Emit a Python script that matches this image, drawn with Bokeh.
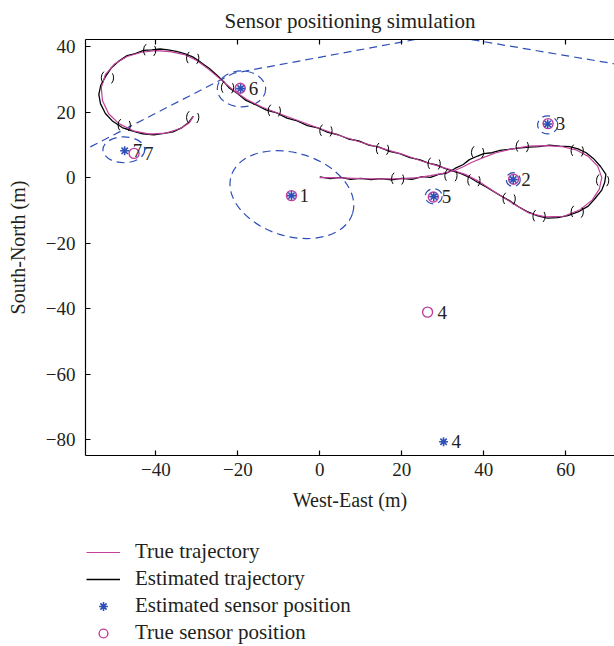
from bokeh.plotting import figure
from bokeh.layouts import column
from bokeh.models import Range1d, LinearAxis, FixedTicker, Legend, LegendItem
from bokeh.core.properties import value
from bokeh.embed import file_html
from bokeh.resources import INLINE

FONT = "Liberation Serif"
TXT = "#231f20"
MAGENTA = "#c0409c"
BLUE = "#2e4fb8"

# ---------------- data ----------------
true_x = [0, 5, 10, 15, 20, 24, 27, 30, 32.8, 35, 37, 40, 43, 47, 51, 55, 59, 62.5, 65.5,
          67.8, 68.8, 68.2, 66.5, 63.5, 59.5, 55, 51, 47, 43, 39, 35.5, 32.8, 29, 25, 20,
          15, 10, 5, 0, -5, -10, -14, -18, -21, -24, -27, -30, -33, -36.5, -40, -43.5, -47,
          -50, -52.3, -53.3, -53, -51.5, -49, -45.5, -41.5, -37.5, -34, -31.8, -30.8]
true_y = [0, -0.1, -0.3, -0.4, -0.3, 0, 0.6, 1.3, 2.1, 3.3, 4.6, 6.2, 7.6, 8.8, 9.6, 9.8, 9.5,
          8.5, 6.5, 3.5, 0, -3.5, -6.8, -9.8, -11.8, -12, -10.8, -7.8, -4.6, -1.3, 1, 2.1, 3.5,
          5, 7.2, 9, 10.8, 12.8, 15, 17.3, 19.6, 21.5, 24, 26.6, 29.8, 33, 35.8, 37.6, 38.5,
          38.8, 38.3, 37, 34.8, 31.5, 27.5, 23.5, 19.5, 16.5, 14.3, 13.3, 13.6, 15, 16.8, 18.8]

est_traj_x = [0, 2.5, 5, 7.5, 10, 12.5, 15, 17.5, 20, 22.5, 25, 27, 29, 31, 33, 35, 36.5, 38.5,
              40, 42, 44, 46, 48.5, 51, 53.5, 56, 58.5, 61, 63, 65, 66.8, 68.5, 69.8, 69.5,
              68.8, 67.2, 65.5, 63, 60.5, 58, 55.5, 53, 50.5, 48.5, 46.5, 44.5, 42.5, 40.5,
              38.5, 36.5, 34.5, 32.5, 30.5, 28.5, 26.5, 24.5, 22, 19.5, 17, 14.5, 12, 9.5, 7,
              4.5, 2, -0.5, -3, -5.5, -8, -10.5, -13, -15.5, -18, -20, -22, -23.5, -25, -27,
              -29, -31, -33, -35, -37, -39, -41, -43, -45, -47, -49, -50.8, -52.2, -53.4,
              -53.9, -53.5, -52.3, -50.5, -48.2, -45.8, -43.2, -40.5, -38, -35.8, -33.6, -32,
              -30.9]
est_traj_y = [0.2, -0.3, 0.1, -0.5, -0.2, -0.6, -0.3, -0.7, -0.2, -0.5, 0.3, 0.1, 1.0, 1.4,
              2.8, 4.0, 5.5, 6.6, 7.3, 7.6, 8.3, 8.6, 9.0, 9.3, 9.5, 9.9, 9.6, 9.5, 8.8, 7.6,
              5.8, 3.4, 1.0, -1.5, -3.8, -6.3, -8.7, -10.5, -11.6, -12.2, -12.4, -11.6, -10.3,
              -8.9, -7.2, -5.8, -4.3, -2.8, -1.4, 0.1, 1.2, 2.0, 2.8, 3.9, 4.4, 5.4, 6.1, 7.3,
              8.0, 9.3, 9.9, 11.2, 11.8, 13.1, 13.8, 15.2, 15.9, 17.3, 18.2, 19.8, 20.6, 22.2,
              23.6, 25.6, 27.3, 29.4, 31.2, 33.4, 35.2, 36.9, 37.9, 38.6, 39.0, 39.3, 39.0,
              38.9, 37.9, 37.3, 35.6, 33.6, 31.0, 28.3, 25.4, 22.6, 19.6, 17.2, 15.3, 14.3,
              13.4, 13.1, 13.5, 14.0, 15.3, 16.8, 18.7]

# small covariance ellipses along the estimated trajectory
traj_ell_x = [-41.5, -31, -51.8, -47.7, -31, -22.5, -11.1, 1.5, 15.3, 27.9, 19, 32, 37.6,
              38.5, 49.4, 62.8, 69, 62.8, 53.5, 46.2]
traj_ell_y = [38.9, 36.5, 30.5, 16.0, 18.4, 27.5, 20.4, 14.3, 8.7, 4.2, -0.4, 0.6, -0.9,
              7.7, 9.5, 8.2, -0.9, -10.5, -11.8, -6.5]

sensor_ids = ["1", "2", "3", "4", "5", "6", "7"]
est_sx = [-6.9, 47.2, 55.6, 30.2, 27.8, -19.3, -47.6]
est_sy = [-5.5, -0.6, 16.4, -80.7, -5.8, 27.2, 8.2]
true_sx = [-6.9, 47.3, 55.7, 26.3, 27.7, -19.4, -45.3]
true_sy = [-5.5, -0.5, 16.5, -41.1, -5.9, 27.3, 7.4]

# sensor covariance ellipses (sensors 1, 2, 3, 5, 6, 7)
ell_x = [-6.8, 47.2, 55.6, 27.8, -19.1, -47.8]
ell_y = [-5.2, -0.6, 16.1, -5.7, 27.1, 8.5]
ell_w = [31.0, 3.4, 4.9, 4.1, 11.8, 10.2]
ell_h = [25.4, 4.2, 5.5, 4.6, 11.0, 7.9]
ell_angle = [-0.30, 0, 0, 0, 0, 0]

# sensor 4 covariance ellipse (only its top part is in view)
s4_ell_x = [-72.9, -21.0, 29.8, 92.9]
s4_ell_y = [-1.5, 31.9, 43.7, 30.3]

x_ticks = [-40, -20, 0, 20, 40, 60]
x_tick_labels = ["\u221240", "\u221220", "0", "20", "40", "60"]
y_ticks = [-80, -60, -40, -20, 0, 20, 40]
y_tick_labels = ["\u221280", "\u221260", "\u221240", "\u221220", "0", "20", "40"]

legend_labels = ["True trajectory", "Estimated trajectory",
                 "Estimated sensor position", "True sensor position"]

# ---------------- main figure ----------------
p = figure(width=614, height=520, output_backend="svg", toolbar_location=None,
           x_range=Range1d(-57.15, 71.9), y_range=Range1d(-84.9, 42.2),
           min_border_left=85, min_border_right=0, min_border_top=37,
           min_border_bottom=65, background_fill_color="white",
           border_fill_color="white")
p.outline_line_color = None
p.grid.visible = False

p.title.text = "Sensor positioning simulation"
p.title.text_font = FONT
p.title.text_font_size = "21px"
p.title.text_font_style = "normal"
p.title.text_color = TXT
p.title.align = "center"
p.title.standoff = 13


def style_axis(ax, ticks, labels, show_labels=True):
    ax.ticker = FixedTicker(ticks=ticks)
    ax.major_label_overrides = {t: (l if show_labels else "") for t, l in zip(ticks, labels)}
    ax.minor_tick_line_color = None
    ax.major_tick_in = 5
    ax.major_tick_out = 0
    ax.axis_line_color = "black"
    ax.axis_line_width = 1.2
    ax.major_tick_line_color = "black"
    ax.major_tick_line_width = 1.2
    ax.major_label_text_font = FONT
    ax.major_label_text_font_size = "19px" if show_labels else "0px"
    ax.major_label_text_color = TXT
    ax.axis_label_text_font = FONT
    ax.axis_label_text_font_size = "20px"
    ax.axis_label_text_font_style = "normal"
    ax.axis_label_text_color = TXT


style_axis(p.xaxis[0], x_ticks, x_tick_labels)
p.xaxis[0].axis_label = "West-East (m)"
p.xaxis[0].major_label_standoff = 7
p.xaxis[0].axis_label_standoff = 10
style_axis(p.yaxis[0], y_ticks, y_tick_labels)
p.yaxis[0].axis_label = "South-North (m)"
p.yaxis[0].major_label_standoff = 10
p.yaxis[0].axis_label_standoff = 14

top_axis = LinearAxis()
style_axis(top_axis, x_ticks, x_tick_labels, show_labels=False)
top_axis.major_label_standoff = 0
p.add_layout(top_axis, "above")

# sensor covariance ellipses
p.ellipse(x=ell_x, y=ell_y, width=ell_w, height=ell_h, angle=ell_angle,
          fill_color=None, line_color=BLUE, line_width=1.2, line_dash="8 5")
p.line(s4_ell_x, s4_ell_y, line_color=BLUE, line_width=1.2, line_dash="8 5")

# trajectories
p.line(est_traj_x, est_traj_y, line_color="black", line_width=1.3)
p.line(true_x, true_y, line_color=MAGENTA, line_width=1.2)

# trajectory covariance ellipses
p.ellipse(x=traj_ell_x, y=traj_ell_y, width=3.0, height=4.6, fill_color=None,
          line_color="black", line_width=1.0, line_dash="6 10 12 10")

# sensors
p.scatter(true_sx, true_sy, marker="circle", size=10, fill_color=None,
          line_color=MAGENTA, line_width=1.4)
p.scatter(est_sx, est_sy, marker="asterisk", size=9, line_color=BLUE, line_width=1.6)

p.text(x=est_sx, y=est_sy, text=sensor_ids, x_offset=8, text_baseline="middle",
       text_font=value(FONT), text_font_size="19px", text_color=TXT)
sep = [i for i in range(7) if (abs(true_sx[i] - est_sx[i]) > 1 or abs(true_sy[i] - est_sy[i]) > 1)]
p.text(x=[true_sx[i] for i in sep], y=[true_sy[i] for i in sep],
       text=[sensor_ids[i] for i in sep], x_offset=10, text_baseline="middle",
       text_font=value(FONT), text_font_size="19px", text_color=TXT)

# ---------------- legend strip ----------------
lg = figure(width=614, height=126, output_backend="svg", toolbar_location=None,
            x_range=Range1d(0, 1), y_range=Range1d(0, 1),
            min_border_left=85, min_border_right=0, min_border_top=0,
            min_border_bottom=0, background_fill_color="white",
            border_fill_color="white")
lg.outline_line_color = None
lg.grid.visible = False
lg.axis.visible = False

# legend keys only: their one point lies outside the strip's visible range
key_x = [5]
key_y = [5]
k_true = lg.line(key_x, key_y, line_color=MAGENTA, line_width=1.2)
k_est = lg.line(key_x, key_y, line_color="black", line_width=1.3)
k_esens = lg.scatter(key_x, key_y, marker="asterisk", size=9, line_color=BLUE,
                     line_width=1.6)
k_tsens = lg.scatter(key_x, key_y, marker="circle", size=10, fill_color=None,
                     line_color=MAGENTA, line_width=1.4)

legend = Legend(items=[
    LegendItem(label=legend_labels[0], renderers=[k_true]),
    LegendItem(label=legend_labels[1], renderers=[k_est]),
    LegendItem(label=legend_labels[2], renderers=[k_esens]),
    LegendItem(label=legend_labels[3], renderers=[k_tsens]),
], location=(1, 1), orientation="vertical", border_line_color=None,
    background_fill_alpha=0, label_text_font=FONT, label_text_font_size="21px",
    label_text_color=TXT, glyph_width=34, glyph_height=22, label_height=22,
    spacing=2, padding=0, margin=0, label_standoff=15)
lg.add_layout(legend, "center")

layout = column(p, lg, spacing=0)
open("out.html", "w").write(file_html(layout, INLINE))
